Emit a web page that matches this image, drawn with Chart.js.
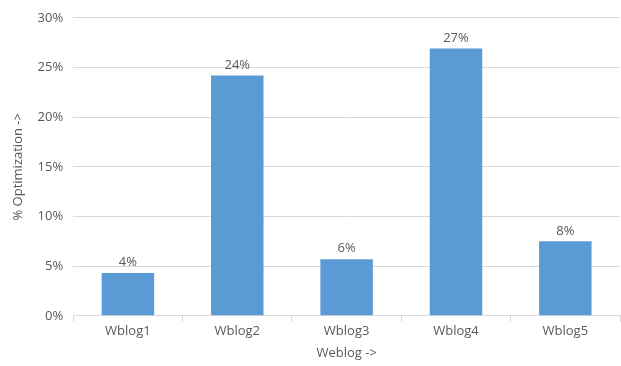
<!DOCTYPE html>
<html>
<head>
<meta charset="utf-8">
<script src="https://cdn.jsdelivr.net/npm/chart.js@4"></script>
<style>
  html, body { margin: 0; padding: 0; background: #fff; }
  #wrap { width: 621px; height: 366px; }
</style>
</head>
<body>
<div id="wrap"><canvas id="myChart"></canvas></div>
<script>
const categories = ['Wblog1', 'Wblog2', 'Wblog3', 'Wblog4', 'Wblog5'];
const optimization = [4.3, 24.2, 5.7, 26.9, 7.5];
const yTicks = [0, 5, 10, 15, 20, 25, 30];

const textColor = '#595959';
const fontFamily = "'Open Sans', sans-serif";

// draws the "24%" style labels above each bar
const barLabels = {
  id: 'barLabels',
  afterDatasetsDraw(chart) {
    const ctx = chart.ctx;
    const meta = chart.getDatasetMeta(0);
    ctx.save();
    ctx.fillStyle = textColor;
    ctx.font = '13px ' + fontFamily;
    ctx.textAlign = 'center';
    ctx.textBaseline = 'bottom';
    meta.data.forEach((bar, i) => {
      ctx.fillText(Math.round(optimization[i]) + '%', bar.x, bar.y - 4);
    });
    ctx.restore();
  }
};

new Chart(document.getElementById('myChart').getContext('2d'), {
  type: 'bar',
  data: {
    labels: categories,
    datasets: [{
      label: '% Optimization',
      data: optimization,
      backgroundColor: '#5b9bd5',
      borderWidth: 0,
      categoryPercentage: 1,
      barPercentage: 0.48
    }]
  },
  options: {
    responsive: true,
    maintainAspectRatio: false,
    animation: false,
    layout: { padding: { top: -6, right: 1, bottom: 5, left: 10 } },
    plugins: {
      legend: { display: false },
      tooltip: { enabled: false }
    },
    scales: {
      x: {
        grid: {
          display: true,
          drawOnChartArea: false,
          drawTicks: true,
          tickLength: 6,
          color: '#d9d9d9',
          offset: true
        },
        border: { color: '#d9d9d9' },
        ticks: { color: textColor, font: { family: fontFamily, size: 13 }, padding: 2 },
        title: {
          display: true,
          text: 'Weblog ->',
          color: textColor,
          font: { family: fontFamily, size: 13 },
          padding: { top: 4, bottom: 0 }
        }
      },
      y: {
        min: 0,
        max: 30,
        afterBuildTicks(axis) {
          axis.ticks = yTicks.map(v => ({ value: v }));
        },
        grid: { color: '#d9d9d9', drawTicks: false },
        border: { display: false },
        ticks: {
          color: textColor,
          font: { family: fontFamily, size: 13 },
          padding: 10,
          callback: v => v + '%'
        },
        title: {
          display: true,
          text: '% Optimization ->',
          color: textColor,
          font: { family: fontFamily, size: 13 },
          padding: { top: 0, bottom: 2 }
        }
      }
    }
  },
  plugins: [barLabels]
});
</script>
</body>
</html>
